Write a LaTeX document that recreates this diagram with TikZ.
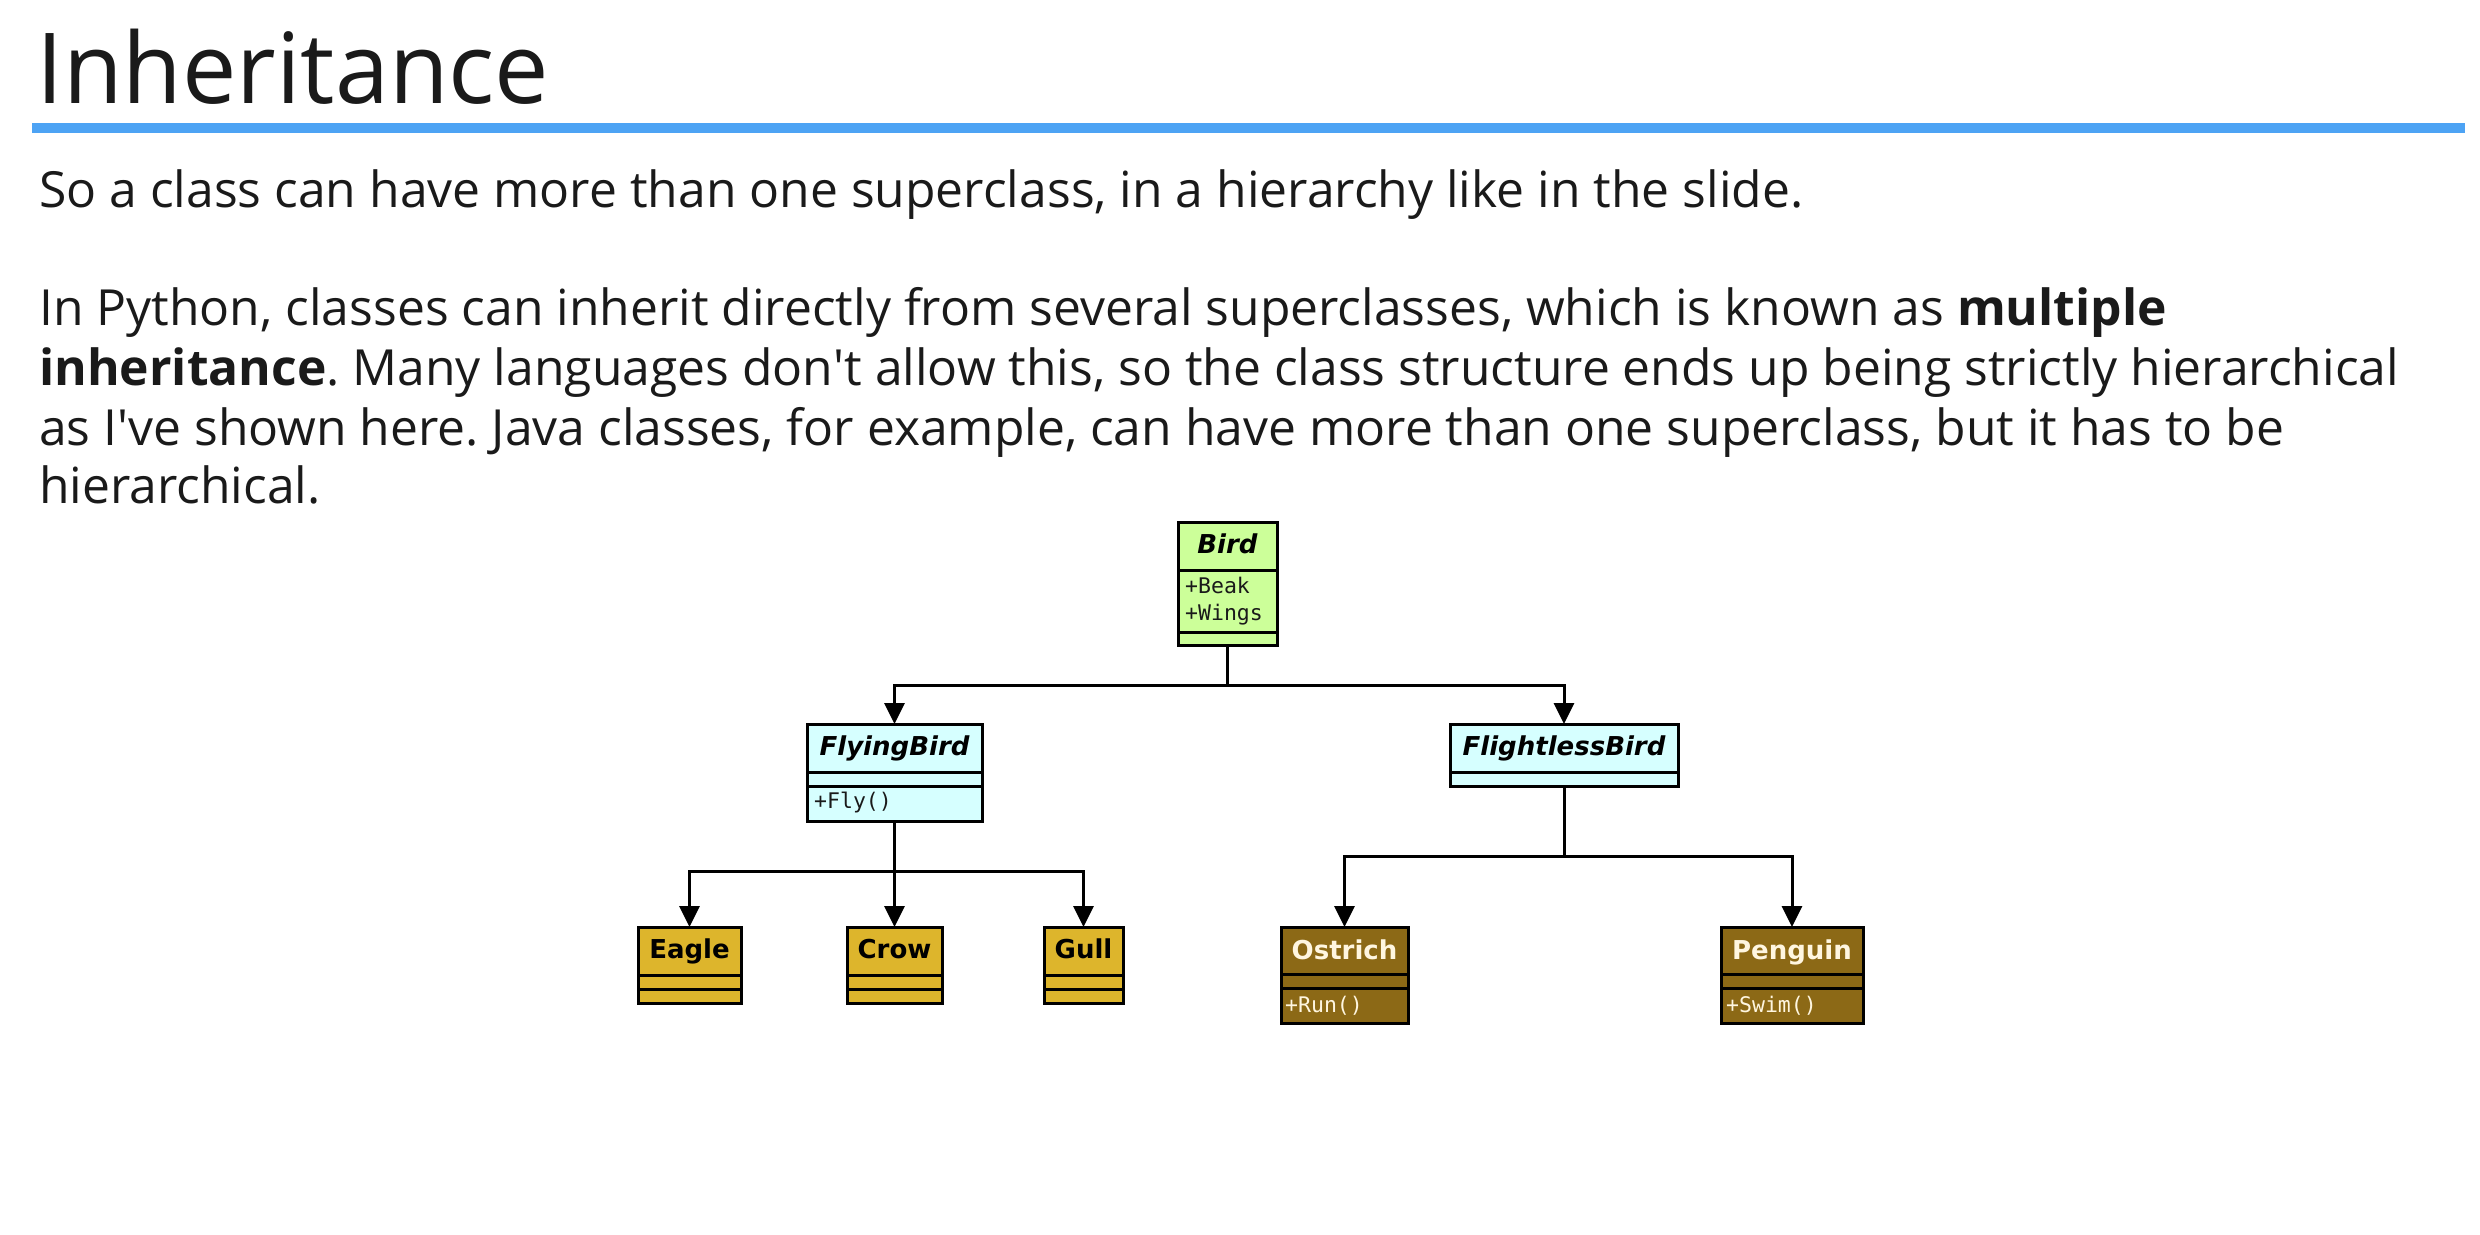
\documentclass[tikz,border=0pt]{standalone}
\usepackage{fontspec}
\setmainfont{Open Sans}
\newfontfamily\umlfont{DejaVu Sans}
\newfontfamily\umlmono{DejaVu Sans Mono}
\usetikzlibrary{arrows.meta}
\frenchspacing

\definecolor{titlerule}{HTML}{4DA3F4}
\definecolor{birdgreen}{HTML}{CCFF99}
\definecolor{flycyan}{HTML}{D6FFFF}
\definecolor{goldclass}{HTML}{DDB52C}
\definecolor{bronzeclass}{HTML}{8C6916}
\definecolor{cream}{HTML}{FFF6E0}
\definecolor{inkgray}{HTML}{1A1A1A}

\tikzset{
  classbox/.style={draw=black, line width=3pt, rectangle, inner sep=0pt,
    outer sep=0pt, anchor=north west},
  divider/.style={line width=3pt},
  inh/.style={line width=3pt, -{Triangle[length=21pt,width=20pt]}},
  abstractname/.style={anchor=base, inner sep=0pt,
    font=\umlfont\bfseries\itshape\fontsize{26}{30}\selectfont},
  concretename/.style={anchor=base, inner sep=0pt,
    font=\umlfont\bfseries\fontsize{26}{30}\selectfont},
  member/.style={anchor=base west, inner sep=0pt,
    font=\umlmono\fontsize{21.5}{25}\selectfont},
  bodyline/.style={anchor=base west, inner sep=0pt,
    font=\fontsize{49.8}{59}\selectfont, text=inkgray},
}

\begin{document}
\begin{tikzpicture}[x=1pt,y=-1pt]
  \useasboundingbox (0,0) rectangle (2480,1234);
  \fill[white] (0,0) rectangle (2480,1234);

  % heading and rule
  \node[anchor=base west, inner sep=0pt, font=\fontsize{98}{112}\selectfont,
    text=inkgray, xscale=0.99] (title) at (36,103) {Inheritance};
  \draw[titlerule, line width=10pt] (32,128) -- (2465,128);

  % body text
  \node[bodyline] (l1) at (39,207) {So a class can have more than one superclass, in a hierarchy like in the slide.};
  \node[bodyline] (l2) at (39,325) {In Python, classes can inherit directly from several superclasses, which is known as \textbf{multiple}};
  \node[bodyline] (l3) at (39,385) {\textbf{inheritance}. Many languages don\textquotesingle t allow this, so the class structure ends up being strictly hierarchical};
  \node[bodyline] (l4) at (39,445) {as I\textquotesingle ve shown here. Java classes, for example, can have more than one superclass, but it has to be};
  \node[bodyline] (l5) at (39,503) {hierarchical.};

  % class boxes
  \node[classbox, fill=birdgreen, minimum width=99pt, minimum height=123pt] (bird) at (1178,522) {};
  \draw[divider] (1178,570) -- (1277,570);
  \draw[divider] (1178,632) -- (1277,632);
  \node[abstractname] (birdname) at (1227.5,553) {Bird};
  \node[member, text=inkgray] (beak) at (1185,593) {+Beak};
  \node[member, text=inkgray] (wings) at (1185,620) {+Wings};

  \node[classbox, fill=flycyan, minimum width=175pt, minimum height=97pt] (flying) at (807,724) {};
  \draw[divider] (807,772) -- (982,772);
  \draw[divider] (807,786) -- (982,786);
  \node[abstractname] (flyingname) at (894.5,755) {FlyingBird};
  \node[member, text=inkgray] (fly) at (814,808) {+Fly()};

  \node[classbox, fill=flycyan, minimum width=228pt, minimum height=62pt] (flightless) at (1450,724) {};
  \draw[divider] (1450,772) -- (1678,772);
  \node[abstractname] (flightlessname) at (1564,755) {FlightlessBird};

  \node[classbox, fill=goldclass, minimum width=103pt, minimum height=76pt] (eagle) at (638,927) {};
  \draw[divider] (638,975) -- (741,975);
  \draw[divider] (638,989) -- (741,989);
  \node[concretename] (eaglename) at (689.5,958) {Eagle};

  \node[classbox, fill=goldclass, minimum width=95pt, minimum height=76pt] (crow) at (847,927) {};
  \draw[divider] (847,975) -- (942,975);
  \draw[divider] (847,989) -- (942,989);
  \node[concretename] (crowname) at (894.5,958) {Crow};

  \node[classbox, fill=goldclass, minimum width=79pt, minimum height=76pt] (gull) at (1044,927) {};
  \draw[divider] (1044,975) -- (1123,975);
  \draw[divider] (1044,989) -- (1123,989);
  \node[concretename] (gullname) at (1083.5,958) {Gull};

  \node[classbox, fill=bronzeclass, minimum width=127pt, minimum height=96pt] (ostrich) at (1281,927) {};
  \draw[divider] (1281,974) -- (1408,974);
  \draw[divider] (1281,988) -- (1408,988);
  \node[concretename, text=cream] (ostrichname) at (1344.5,959) {Ostrich};
  \node[member, text=cream] (run) at (1285,1012) {+Run()};

  \node[classbox, fill=bronzeclass, minimum width=142pt, minimum height=96pt] (penguin) at (1721,927) {};
  \draw[divider] (1721,974) -- (1863,974);
  \draw[divider] (1721,988) -- (1863,988);
  \node[concretename, text=cream] (penguinname) at (1792,959) {Penguin};
  \node[member, text=cream] (swim) at (1726,1012) {+Swim()};

  % inheritance connectors
  \coordinate (jbird) at (0,685);
  \coordinate (jfly) at (0,871);
  \coordinate (jless) at (0,856);

  \draw[inh] (bird.south) -- (bird.south |- jbird) -| (flying.north);
  \draw[inh] (bird.south) -- (bird.south |- jbird) -| (flightless.north);

  \draw[inh] (flying.south) -- (flying.south |- jfly) -| (eagle.north);
  \draw[inh] (flying.south) -- (crow.north);
  \draw[inh] (flying.south) -- (flying.south |- jfly) -| (gull.north);

  \draw[inh] (flightless.south) -- (flightless.south |- jless) -| (ostrich.north);
  \draw[inh] (flightless.south) -- (flightless.south |- jless) -| (penguin.north);
\end{tikzpicture}
\end{document}
